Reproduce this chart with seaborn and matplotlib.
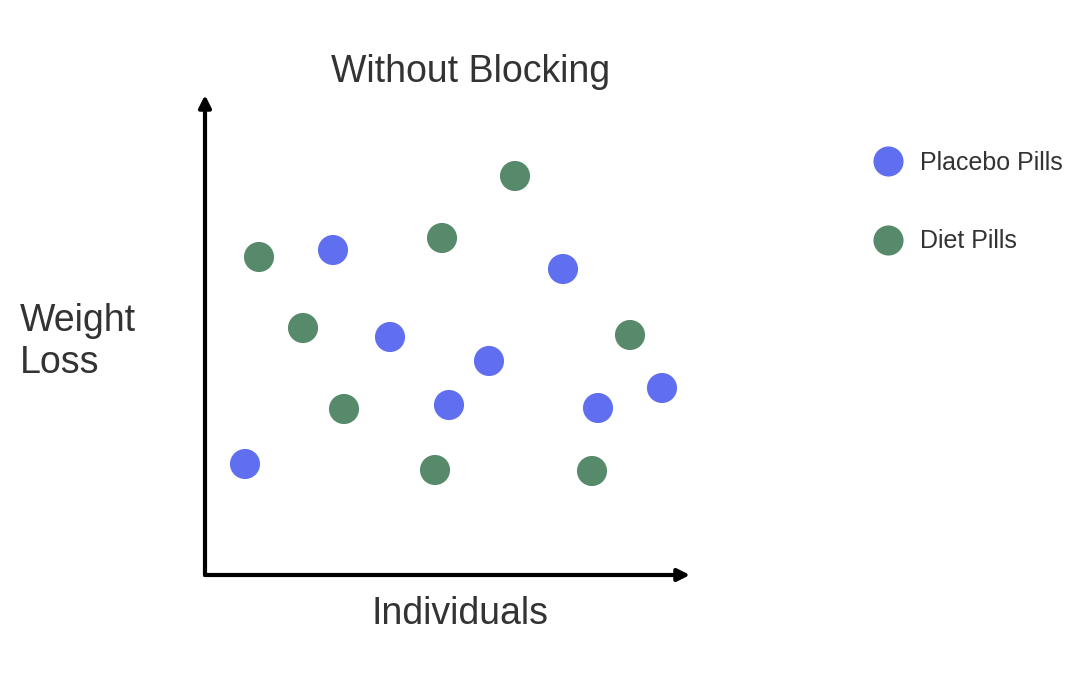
import matplotlib
matplotlib.use("Agg")
import matplotlib.pyplot as plt
import seaborn as sns
import pandas as pd

sns.set_theme(style="white")
plt.rcParams['font.family'] = ['Liberation Sans', 'DejaVu Sans']

placebo_x = [128, 185, 244, 284, 358, 393, 457, 40]
placebo_y = [325, 238, 170, 214, 306, 167, 187, 111]
diet_x = [54, 98, 139, 237, 310, 425, 230, 387]
diet_y = [318, 247, 166, 337, 399, 240, 105, 104]
groups = ["Placebo Pills", "Diet Pills"]

df = pd.DataFrame({
    "x": placebo_x + diet_x,
    "y": placebo_y + diet_y,
    "group": [groups[0]] * len(placebo_x) + [groups[1]] * len(diet_x),
})

fig = plt.figure(figsize=(10.92, 6.94), dpi=100)
ax = fig.add_axes([205/1092, 119/694, 485/1092, 480/694])
sns.scatterplot(data=df, x="x", y="y", hue="group",
                palette={groups[0]: "#5f6ff0", groups[1]: "#568a6a"},
                s=470, edgecolor="none", ax=ax, legend=True)
ax.set_xlim(0, 485)
ax.set_ylim(0, 480)
for s in ax.spines.values():
    s.set_visible(False)
ax.set_xticks([]); ax.set_yticks([])
ax.set_xlabel(""); ax.set_ylabel("")
ax.annotate("", xy=(1.0, 0), xytext=(0, 0), xycoords="axes fraction",
            arrowprops=dict(arrowstyle="-|>", lw=3, color="black", mutation_scale=18, shrinkA=0, shrinkB=0))
ax.annotate("", xy=(0, 1.0), xytext=(0, 0), xycoords="axes fraction",
            arrowprops=dict(arrowstyle="-|>", lw=3, color="black", mutation_scale=18, shrinkA=0, shrinkB=0))

fig.text(471/1092, 1 - 72/694, "Without Blocking", ha="center", va="center", fontsize=27, color="#333333")
fig.text(460/1092, 1 - 614/694, "Individuals", ha="center", va="center", fontsize=27, color="#333333")
fig.text(20/1092, 1 - 342/694, "Weight\nLoss", ha="left", va="center", fontsize=27, color="#333333", linespacing=1.2)

leg = ax.legend(loc="upper left", bbox_to_anchor=(840/1092, 1 - 128/694),
                bbox_transform=fig.transFigure, frameon=False, fontsize=18,
                labelspacing=2.2, handletextpad=0.3, markerscale=1.0)
for t in leg.get_texts():
    t.set_color("#333333")

fig.savefig("out.png", dpi=100)
